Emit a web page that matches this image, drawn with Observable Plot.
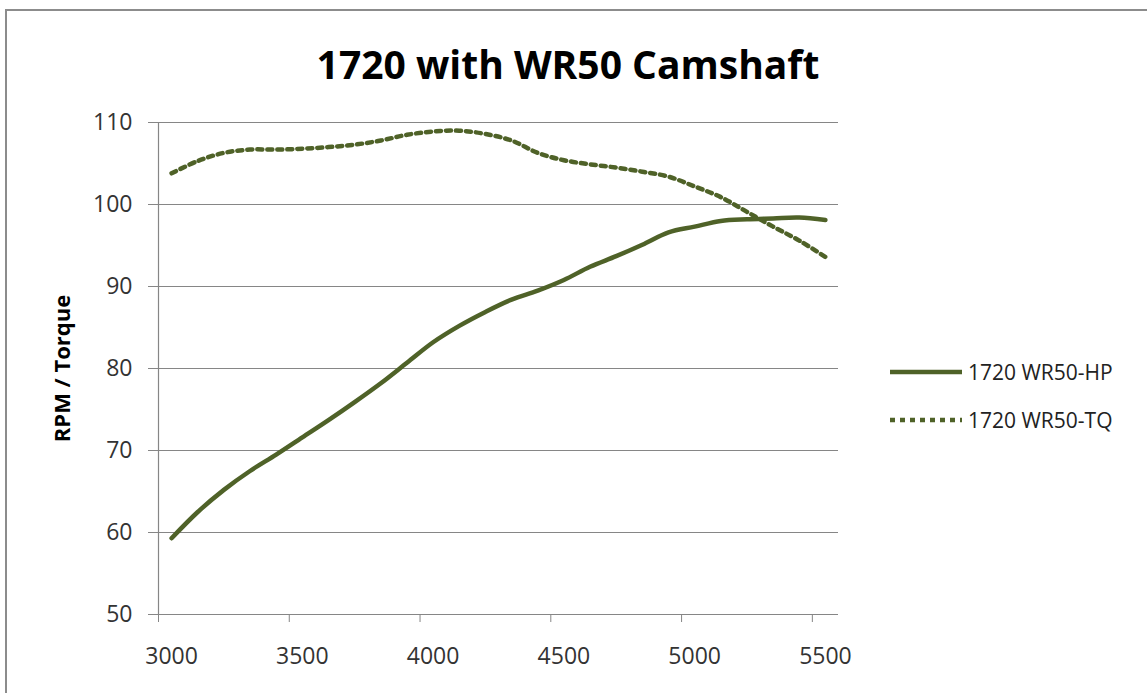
<!DOCTYPE html>
<html><head><meta charset="utf-8">
<script src="https://cdn.jsdelivr.net/npm/d3@7"></script>
<script src="https://cdn.jsdelivr.net/npm/@observablehq/plot@0.6"></script>
<style>
body{margin:0;background:#fff;overflow:hidden;font-family:"Open Sans",sans-serif}
#wrap{position:relative;width:1147px;height:693px;overflow:hidden;background:#fff}
#frame{position:absolute;left:5px;top:9px;width:1200px;height:800px;border-left:2px solid #8c8c8c;border-top:2px solid #8c8c8c;pointer-events:none}
#title{height:100px;box-sizing:border-box;padding-top:44px;padding-right:11px;text-align:center;font-size:39px;line-height:39px;font-weight:700;color:#000}
.leg{position:absolute;left:890px;height:30px;display:flex;align-items:center;font-size:21px;color:#222;white-space:nowrap}
.leg svg{margin-right:6px}
</style></head>
<body>
<div id="wrap">
<div id="frame"></div>
<div id="title">1720 with WR50 Camshaft</div>
<div id="chart"></div>
<div class="leg" style="top:357px"><svg width="72" height="8"><line x1="0" x2="72" y1="4" y2="4" stroke="#4f6228" stroke-width="4.5"/></svg><span>1720 WR50-HP</span></div>
<div class="leg" style="top:405px"><svg width="72" height="8"><line x1="0" x2="72" y1="4" y2="4" stroke="#4f6228" stroke-width="4.5" stroke-dasharray="5,5"/></svg><span>1720 WR50-TQ</span></div>
</div>
<script>
const rpm = [3000,3100,3200,3300,3400,3500,3600,3700,3800,3900,4000,4100,4200,4300,4400,4500,4600,4700,4800,4900,5000,5100,5200,5300,5400,5500];
const hp  = [59.3,62.5,65.2,67.5,69.5,71.6,73.7,75.9,78.2,80.7,83.2,85.2,86.9,88.4,89.5,90.8,92.4,93.7,95.1,96.6,97.3,98.0,98.2,98.3,98.4,98.1];
const tq  = [103.8,105.3,106.3,106.7,106.7,106.8,107.0,107.3,107.8,108.5,108.9,109.0,108.6,107.8,106.3,105.4,104.9,104.5,104.0,103.4,102.2,100.9,99.1,97.3,95.6,93.6];
const seriesNames = ["1720 WR50-HP","1720 WR50-TQ"];
const xTickLabels = [3000,3500,4000,4500,5000,5500];
const yTicks = [50,60,70,80,90,100,110];
const yLabel = "RPM / Torque";

const step = rpm[1]-rpm[0];
const xDomain = [rpm[0]-step/2, rpm[rpm.length-1]+step/2];
const tickMarks = rpm.filter((d,i)=>i%5===0).map(d=>d-step/2);

const data = [];
rpm.forEach((r,i)=>{
  data.push({rpm:r, value:hp[i], series:seriesNames[0]});
  data.push({rpm:r, value:tq[i], series:seriesNames[1]});
});
const color = "#4f6228";
const grid = "#868686";

const chart = Plot.plot({
  width:1147, height:593,
  marginTop:22, marginBottom:79, marginLeft:158, marginRight:309,
  style:{fontFamily:"'Open Sans',sans-serif", background:"#fff", overflow:"visible"},
  x:{domain:xDomain},
  y:{domain:[yTicks[0], yTicks[yTicks.length-1]]},
  marks:[
    Plot.ruleY(yTicks, {stroke:grid, strokeWidth:1.2}),
    Plot.ruleX([xDomain[0]], {stroke:grid, strokeWidth:1.2}),
    Plot.axisY(yTicks, {tickSize:10, tickPadding:16, stroke:grid, fill:"#333", fontSize:23, label:null}),
    Plot.axisX(tickMarks, {tickSize:8, tickFormat:()=>"", stroke:grid, label:null}),
    Plot.axisX(xTickLabels, {tickSize:0, tickPadding:33, fill:"#333", fontSize:23, label:null, tickFormat:d=>String(d)}),
    Plot.text([yLabel], {frameAnchor:"left", textAnchor:"middle", rotate:-90, dx:-96, fontSize:22, fontWeight:"bold", fill:"#000"}),
    Plot.line(data.filter(d=>d.series===seriesNames[1]), {x:"rpm", y:"value", stroke:color, strokeWidth:4.5, strokeDasharray:"5,5", curve:"catmull-rom"}),
    Plot.line(data.filter(d=>d.series===seriesNames[0]), {x:"rpm", y:"value", stroke:color, strokeWidth:4.5, curve:"catmull-rom"})
  ]
});
document.getElementById("chart").appendChild(chart);
</script>
</body></html>
